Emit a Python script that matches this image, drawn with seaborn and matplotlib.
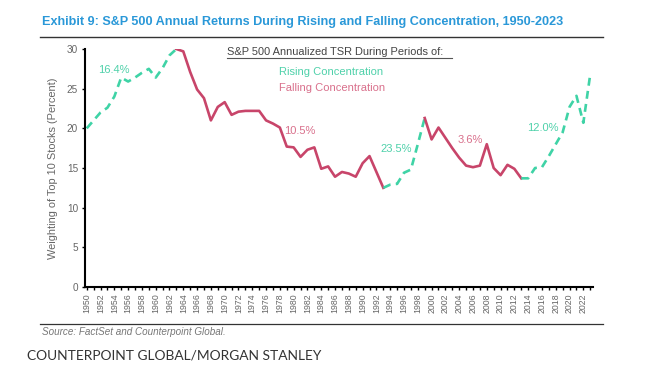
import matplotlib
matplotlib.use("Agg")
import matplotlib.pyplot as plt
from matplotlib.lines import Line2D
import seaborn as sns
import pandas as pd

years = list(range(1950, 2024))
weights = [20.0, 21.0, 22.0, 22.6, 24.0, 26.4, 25.9, 26.4, 27.0, 27.5,
           26.4, 27.6, 29.2, 30.0, 29.7, 27.1, 24.9, 23.8, 21.0, 22.7,
           23.3, 21.7, 22.1, 22.2, 22.2, 22.2, 21.0, 20.6, 20.1, 17.7,
           17.6, 16.4, 17.3, 17.6, 14.9, 15.2, 13.9, 14.5, 14.3, 13.9,
           15.6, 16.5, 14.5, 12.5, 12.9, 13.0, 14.4, 14.8, 18.0, 21.3,
           18.6, 20.1, 18.8, 17.5, 16.3, 15.3, 15.1, 15.3, 18.0, 15.0,
           14.1, 15.4, 14.9, 13.7, 13.7, 15.0, 15.1, 16.5, 18.0, 19.5,
           22.7, 24.1, 20.7, 26.8]

# periods: (start, end, kind)
periods = [(1950, 1963, "rising"), (1963, 1993, "falling"), (1993, 1999, "rising"),
           (1999, 2013, "falling"), (2013, 2023, "rising")]
# annualized TSR labels: (year, value, text, kind)
labels = [(1954.0, 27.4, "16.4%", "rising"), (1980.9, 19.7, "10.5%", "falling"),
          (1994.8, 17.4, "23.5%", "rising"), (2005.6, 18.5, "3.6%", "falling"),
          (2016.1, 20.1, "12.0%", "rising")]

df = pd.DataFrame({"year": years, "weight": weights})

green = "#3fd3a6"
red = "#c8456a"
green_txt = "#4fd1aa"
red_txt = "#d9708c"
gray = "#666666"

fig = plt.figure(figsize=(6.5, 3.87), dpi=100)
ax = fig.add_axes([85 / 650, 1 - 287 / 387, 508 / 650, 238 / 387])

for start, end, kind in periods:
    seg = df[(df.year >= start) & (df.year <= end)]
    if kind == "rising":
        sns.lineplot(data=seg, x="year", y="weight", ax=ax, color=green, lw=1.9,
                     linestyle=(0, (3.0, 2.0)))
    else:
        sns.lineplot(data=seg, x="year", y="weight", ax=ax, color=red, lw=1.9)

for x, y, txt, kind in labels:
    ax.text(x, y, txt, color=green_txt if kind == "rising" else red_txt,
            fontsize=8, ha="center", va="center", family="Liberation Sans")

ax.set_xlim(1949.75, 2023.4)
ax.set_ylim(0, 30)
ax.set_yticks(range(0, 31, 5))
ax.set_xticks(range(1950, 2024), minor=True)
ax.set_xticks(range(1950, 2024, 2))
ax.set_xticklabels([str(y) for y in range(1950, 2024, 2)], rotation=90,
                   fontsize=6.3, color=gray, family="Liberation Sans")
ax.tick_params(axis="y", labelsize=7.2, labelcolor=gray, length=2, width=1, pad=3)
ax.tick_params(axis="x", which="both", length=2.5, width=1, pad=2)
for t in ax.get_yticklabels():
    t.set_family("Liberation Sans")
ax.set_xlabel("")
ax.set_ylabel("Weighting of Top 10 Stocks (Percent)", fontsize=7.9, color=gray,
              family="Liberation Sans", labelpad=6)
ax.spines["top"].set_visible(False)
ax.spines["right"].set_visible(False)
ax.spines["left"].set_linewidth(1.5)
ax.spines["bottom"].set_linewidth(1.5)
ax.set_facecolor("white")

# legend text block
fig.text(227 / 650, 1 - 52 / 387, "S&P 500 Annualized TSR During Periods of:",
         fontsize=7.9, color="#444444", family="Liberation Sans", va="center")
fig.add_artist(Line2D([227 / 650, 452 / 650], [1 - 58 / 387, 1 - 58 / 387],
                      color="#555555", lw=0.8))
fig.text(279 / 650, 1 - 72 / 387, "Rising Concentration", fontsize=8,
         color=green_txt, family="Liberation Sans", va="center")
fig.text(279 / 650, 1 - 88 / 387, "Falling Concentration", fontsize=8,
         color=red_txt, family="Liberation Sans", va="center")

fig.text(42 / 650, 1 - 22 / 387,
         "Exhibit 9: S&P 500 Annual Returns During Rising and Falling Concentration, 1950-2023",
         fontsize=9.1, fontweight="bold", color="#2a98d8", family="Liberation Sans",
         va="center")
fig.add_artist(Line2D([40 / 650, 603 / 650], [1 - 37 / 387, 1 - 37 / 387],
                      color="#333333", lw=1.0))
fig.add_artist(Line2D([40 / 650, 603 / 650], [1 - 324 / 387, 1 - 324 / 387],
                      color="#333333", lw=0.9))
fig.text(42 / 650, 1 - 332 / 387, "Source: FactSet and Counterpoint Global.",
         fontsize=7.1, style="italic", color="#777777", family="Liberation Sans",
         va="center")
fig.text(27 / 650, 1 - 356 / 387, "COUNTERPOINT GLOBAL/MORGAN STANLEY",
         fontsize=9.9, color="#333333", family="Lato", va="center")

fig.savefig("out.png", dpi=100, facecolor="white")
